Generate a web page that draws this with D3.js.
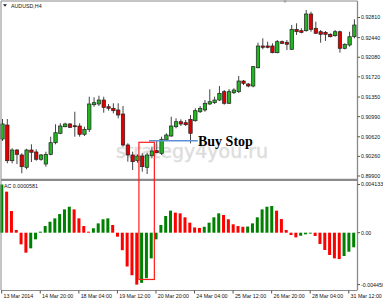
<!DOCTYPE html>
<html>
<head>
<meta charset="utf-8">
<script src="https://cdn.jsdelivr.net/npm/d3@7"></script>
<style>
  html, body { margin: 0; padding: 0; background: #ffffff; }
  svg { display: block; font-family: "Liberation Sans", Arial, sans-serif; }
</style>
</head>
<body>
<main></main>
<script>
let svgWidth  = 383;
let svgHeight = 300;

// AUDUSD H4, one entry per bar (13 Mar 2014 12:00 .. 31 Mar 2014 16:00)
const openP  = [0.90579,0.90836,0.90181,0.90377,0.90286,0.90060,0.90377,0.90341,0.90207,0.90120,
                0.90298,0.90511,0.90684,0.90805,0.90855,0.90823,0.90818,0.90666,0.90757,0.91209,
                0.91222,0.91295,0.91172,0.91143,0.91112,0.91038,0.90469,0.90286,0.90181,0.90267,
                0.90060,0.90273,0.90365,0.90317,0.90561,0.90634,0.90805,0.90897,0.90879,0.90941,
                0.90915,0.91080,0.91112,0.91222,0.91246,0.91295,0.91448,0.91235,0.91429,0.91448,
                0.91644,0.91589,0.91552,0.91888,0.92287,0.92287,0.92287,0.92164,0.92366,0.92355,
                0.92226,0.92593,0.92568,0.92568,0.92874,0.92612,0.92549,0.92538,0.92502,0.92476,
                0.92549,0.92244,0.92305,0.92457];
const highP  = [0.90946,0.90946,0.90409,0.90396,0.90317,0.90401,0.90482,0.90390,0.90304,0.90346,
                0.90622,0.90849,0.90868,0.90879,0.90873,0.91080,0.90868,0.90805,0.91356,0.91345,
                0.91374,0.91356,0.91222,0.91235,0.91235,0.91185,0.90500,0.90346,0.90298,0.90317,
                0.90328,0.90438,0.90561,0.90622,0.90684,0.90989,0.90959,0.90941,0.90928,0.91020,
                0.91143,0.91185,0.91295,0.91492,0.91356,0.91552,0.91479,0.91497,0.91510,0.91736,
                0.91662,0.91607,0.91919,0.92347,0.92428,0.92366,0.92336,0.92397,0.92388,0.92397,
                0.92672,0.92703,0.92612,0.92948,0.92916,0.92733,0.92580,0.92562,0.92520,0.92580,
                0.92568,0.92336,0.92549,0.92777];
const lowP   = [0.90543,0.90133,0.90133,0.90120,0.89950,0.90023,0.90157,0.90181,0.90181,0.90071,
                0.90280,0.90482,0.90666,0.90794,0.90781,0.90622,0.90622,0.90634,0.90708,0.91172,
                0.91185,0.91062,0.91099,0.91051,0.90959,0.90438,0.90163,0.90010,0.90144,0.89979,
                0.89937,0.90225,0.90317,0.90286,0.90548,0.90622,0.90776,0.90818,0.90818,0.90500,
                0.90897,0.91057,0.91080,0.91204,0.91222,0.91277,0.91209,0.91222,0.91405,0.91424,
                0.91571,0.91528,0.91528,0.91877,0.92226,0.92244,0.92153,0.92153,0.92323,0.92213,
                0.92213,0.92489,0.92520,0.92549,0.92549,0.92507,0.92347,0.92379,0.92446,0.92457,
                0.92164,0.92226,0.92274,0.92428];
const closeP = [0.90855,0.90181,0.90377,0.90298,0.90071,0.90377,0.90335,0.90207,0.90286,0.90298,
                0.90511,0.90695,0.90818,0.90855,0.90794,0.90805,0.90666,0.90757,0.91222,0.91246,
                0.91295,0.91161,0.91143,0.91099,0.91020,0.90469,0.90286,0.90163,0.90267,0.90071,
                0.90286,0.90359,0.90328,0.90574,0.90653,0.90818,0.90897,0.90855,0.90842,0.90684,
                0.91099,0.91143,0.91235,0.91264,0.91295,0.91418,0.91235,0.91448,0.91479,0.91644,
                0.91602,0.91552,0.91907,0.92287,0.92263,0.92263,0.92164,0.92366,0.92336,0.92318,
                0.92593,0.92549,0.92538,0.92874,0.92593,0.92520,0.92502,0.92502,0.92457,0.92549,
                0.92244,0.92318,0.92457,0.92672];

// Accelerator Oscillator
const acValues = [0.004133,0.00352,0.00186,0.00023,-0.00100,-0.00171,-0.00134,-0.00057,0.00009,0.00057,
                  0.00094,0.00123,0.00160,0.00200,0.00223,0.00200,0.00123,0.00057,0.00009,0.00038,
                  0.00080,0.00115,0.00123,0.00066,-0.00034,-0.00150,-0.00290,-0.00365,-0.00445,-0.00430,
                  -0.00390,-0.00220,-0.00057,0.00066,0.00143,0.00189,0.00172,0.00166,0.00132,0.00086,
                  0.00045,0.00041,0.00051,0.00086,0.00132,0.00166,0.00152,0.00115,0.00072,0.00057,
                  0.00051,0.00053,0.00080,0.00132,0.00200,0.00223,0.00229,0.00189,0.00117,0.00023,
                  -0.00020,-0.00040,-0.00026,-0.00014,-0.00008,-0.00028,-0.00097,-0.00148,-0.00191,-0.00220,
                  -0.00226,-0.00200,-0.00163,-0.00125];

const priceTicks = [0.92810,0.92440,0.92080,0.91720,0.91350,0.90990,0.90620,0.90260,0.89900];
const acTicks    = [0.004133, 0.0, -0.00445];
const acTickText = ['0.004133', '0.00', '-0.004450'];
const timeBars   = [0, 8, 16, 24, 32, 40, 48, 56, 64, 72];
const timeLabels = ['13 Mar 2014','14 Mar 20:00','18 Mar 04:00','19 Mar 12:00','20 Mar 20:00',
                    '24 Mar 04:00','25 Mar 12:00','26 Mar 20:00','28 Mar 04:00','31 Mar 12:00'];

const symbolTitle = 'AUDUSD,H4';
const acTitle     = 'AC 0.0000581';
const buyStopPrice = 0.90548;
const boxBars  = [28.3, 31.5];
const boxTop   = 0.90519;
const boxBottom = -0.00401;

const plotRight = 357.5;
const bullColor = '#22b422';
const bearColor = '#e00000';

var svg;

document.addEventListener("DOMContentLoaded", function() {
  svg = d3.select("body main")
    .append('svg')
    .attr('width', svgWidth)
    .attr('height', svgHeight);

  svg.append('rect')
    .attr('width', svgWidth).attr('height', svgHeight)
    .attr('fill', '#ffffff');

  let x = d3.scaleLinear().domain([0, 73]).range([2.5, 354.4]);
  let y = d3.scaleLinear().domain([0.89900, 0.92810]).range([176, 17.5]);
  let ya = d3.scaleLinear().domain([-0.00445, 0.004133]).range([284.6, 184.5]);

  // watermark
  svg.append('text')
    .attr('x', 116).attr('y', 158)
    .attr('font-family', '"DejaVu Sans", sans-serif')
    .attr('font-size', 19)
    .attr('fill', '#c9c9c9')
    .attr('fill-opacity', 0.75)
    .attr('stroke', '#e6e6e6')
    .attr('stroke-width', 0.6)
    .text('strategy4you.ru');

  // candles
  let idx = d3.range(openP.length);
  let candles = svg.append('g');

  candles.selectAll('line')
    .data(idx).enter()
    .append('line')
      .attr('x1', function(i) { return x(i); })
      .attr('x2', function(i) { return x(i); })
      .attr('y1', function(i) { return y(highP[i]); })
      .attr('y2', function(i) { return y(lowP[i]); })
      .attr('stroke', '#444')
      .attr('stroke-width', 1);

  candles.selectAll('rect')
    .data(idx).enter()
    .append('rect')
      .attr('x', function(i) { return x(i) - 1.7; })
      .attr('width', 3.4)
      .attr('y', function(i) { return y(Math.max(openP[i], closeP[i])); })
      .attr('height', function(i) { return Math.max(1, Math.abs(y(openP[i]) - y(closeP[i]))); })
      .attr('fill', function(i) { return closeP[i] >= openP[i] ? bullColor : bearColor; })
      .attr('stroke', '#222')
      .attr('stroke-width', 0.7);

  // AC histogram
  svg.append('g').selectAll('rect')
    .data(idx).enter()
    .append('rect')
      .attr('x', function(i) { return x(i) - 2.2; })
      .attr('width', 3)
      .attr('y', function(i) { return Math.min(ya(acValues[i]), ya(0)); })
      .attr('height', function(i) { return Math.max(0.8, Math.abs(ya(acValues[i]) - ya(0))); })
      .attr('fill', function(i) {
        if (i === 0) return '#008000';
        return acValues[i] > acValues[i - 1] ? '#008000' : '#ff0000';
      });

  // frame
  let frame = svg.append('g').attr('stroke', '#8a8a8a').attr('fill', 'none');
  frame.append('line').attr('x1', 1).attr('x2', plotRight).attr('y1', 1).attr('y2', 1);
  frame.append('line').attr('x1', 1).attr('x2', 1).attr('y1', 1).attr('y2', 290);
  frame.append('line').attr('x1', plotRight).attr('x2', plotRight).attr('y1', 1).attr('y2', 290).attr('stroke-width', 1.3);
  frame.append('line').attr('x1', 1).attr('x2', plotRight).attr('y1', 290.5).attr('y2', 290.5);
  frame.append('line').attr('x1', 1).attr('x2', plotRight).attr('y1', 179.8).attr('y2', 179.8).attr('stroke-width', 2.2);

  // shift marker
  svg.append('path')
    .attr('d', 'M283,0.5 L287,0.5 L285,3 Z')
    .attr('fill', '#a0a0a0');

  // price axis
  let pAxis = svg.append('g');
  pAxis.selectAll('line')
    .data(priceTicks).enter()
    .append('line')
      .attr('x1', plotRight).attr('x2', plotRight + 2.5)
      .attr('y1', function(d) { return y(d); })
      .attr('y2', function(d) { return y(d); })
      .attr('stroke', '#555');
  pAxis.selectAll('text')
    .data(priceTicks).enter()
    .append('text')
      .attr('x', 361)
      .attr('y', function(d) { return y(d) + 1.9; })
      .attr('font-size', 5.3)
      .attr('fill', '#111')
      .text(function(d) { return d3.format('.5f')(d); });

  // AC axis
  let aAxis = svg.append('g');
  aAxis.selectAll('line')
    .data(acTicks).enter()
    .append('line')
      .attr('x1', plotRight).attr('x2', plotRight + 2.5)
      .attr('y1', function(d) { return ya(d); })
      .attr('y2', function(d) { return ya(d); })
      .attr('stroke', '#555');
  aAxis.selectAll('text')
    .data(acTicks).enter()
    .append('text')
      .attr('x', 361)
      .attr('y', function(d) { return ya(d) + 1.9; })
      .attr('font-size', 5.3)
      .attr('fill', '#111')
      .text(function(d, i) { return acTickText[i]; });

  // time axis
  let tAxis = svg.append('g');
  tAxis.selectAll('line')
    .data(timeBars).enter()
    .append('line')
      .attr('x1', function(d) { return x(d) - 0.8; })
      .attr('x2', function(d) { return x(d) - 0.8; })
      .attr('y1', 290.5).attr('y2', 293.5)
      .attr('stroke', '#555');
  tAxis.selectAll('text')
    .data(timeBars).enter()
    .append('text')
      .attr('x', function(d) { return x(d) + 1; })
      .attr('y', 297.5)
      .attr('font-size', 5.3)
      .attr('fill', '#111')
      .text(function(d, i) { return timeLabels[i]; });

  // window titles
  svg.append('path')
    .attr('d', 'M3,4.3 L7,4.3 L5,6.8 Z')
    .attr('fill', '#222');
  svg.append('text')
    .attr('x', 11).attr('y', 7.6)
    .attr('font-size', 5.3).attr('fill', '#111')
    .text(symbolTitle);
  svg.append('text')
    .attr('x', 4).attr('y', 188)
    .attr('font-size', 5.3).attr('fill', '#111')
    .text(acTitle);

  // annotations
  svg.append('line')
    .attr('x1', x(30.4)).attr('x2', x(40.5))
    .attr('y1', y(buyStopPrice)).attr('y2', y(buyStopPrice))
    .attr('stroke', '#5b8fd6')
    .attr('stroke-width', 1.4);
  svg.append('text')
    .attr('x', 198).attr('y', 146)
    .attr('font-family', '"Liberation Serif", "Times New Roman", serif')
    .attr('font-weight', 'bold')
    .attr('font-size', 14)
    .attr('fill', '#000')
    .text('Buy Stop');

  svg.append('rect')
    .attr('x', x(boxBars[0])).attr('width', x(boxBars[1]) - x(boxBars[0]))
    .attr('y', y(boxTop)).attr('height', ya(boxBottom) - y(boxTop))
    .attr('fill', 'none')
    .attr('stroke', '#ff1a1a')
    .attr('stroke-width', 1.2);
});
</script>
</body>
</html>
